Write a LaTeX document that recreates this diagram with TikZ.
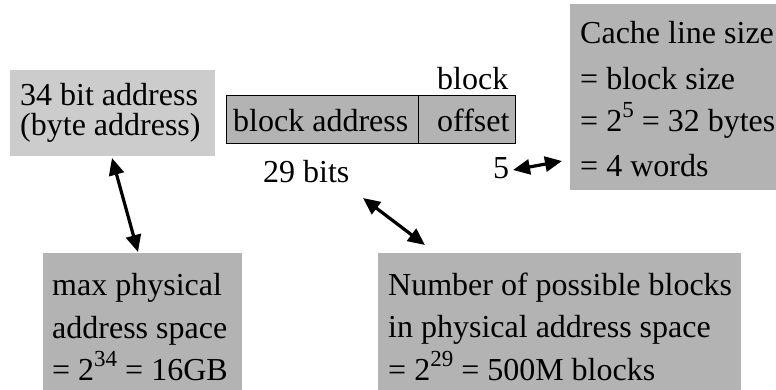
\documentclass[tikz,border=0pt]{standalone}
\usepackage{fontspec}
\setmainfont{Liberation Serif}
\usetikzlibrary{arrows.meta}
\definecolor{boxlight}{HTML}{CCCCCC}
\definecolor{boxdark}{HTML}{B3B3B3}
\newcommand\supnum[1]{\raisebox{14pt}{\fontsize{23}{23}\selectfont #1}}
\begin{document}
\begin{tikzpicture}[x=1pt,y=-1pt,
  txt/.style={inner sep=0pt, anchor=base west, font=\fontsize{32}{38}\selectfont},
  lightbox/.style={fill=boxlight, draw=none, inner sep=0pt, anchor=north west},
  darkbox/.style={fill=boxdark, draw=none, inner sep=0pt, anchor=north west},
  fieldbox/.style={fill=boxdark, draw=black, line width=1pt, inner sep=0pt, anchor=north west},
  dar/.style={{Triangle[length=17pt,width=15pt]}-{Triangle[length=17pt,width=15pt]}, line width=3.2pt},
]
\useasboundingbox (0,0) rectangle (776,389);

% boxes
\node[lightbox, minimum width=205pt, minimum height=86pt] (addr) at (10,70) {};
\node[fieldbox, minimum width=192pt, minimum height=48pt] (baddr) at (226,95) {};
\node[fieldbox, minimum width=97pt, minimum height=48pt] (boff) at (418,95) {};
\node[darkbox, minimum width=220pt, minimum height=186pt] (cache) at (570,4) {};
\node[darkbox, minimum width=199pt, minimum height=150pt] (maxsp) at (43,253) {};
\node[darkbox, minimum width=363pt, minimum height=150pt] (nblk) at (378,253) {};

% texts
\node[txt] (addrA) at (20,105) {34 bit address};
\node[txt] (addrB) at (20,135) {(byte address)};
\node[txt] (baddrT) at (233,131) {block address};
\node[txt] (boffT) at (437,131) {offset};
\node[txt] (blockT) at (437,89) {block};
\node[txt] (bits29) at (263,182) {29 bits};
\node[txt] (bits5) at (493,178) {5};
\node[txt] (cacheA) at (580,43) {Cache line size};
\node[txt] (cacheB) at (580,89) {= block size};
\node[txt] (cacheC) at (580,131) {= 2\supnum{5} = 32 bytes};
\node[txt] (cacheD) at (580,176) {= 4 words};
\node[txt] (maxA) at (52,295) {max physical};
\node[txt] (maxB) at (52,338) {address space};
\node[txt] (maxC) at (52,380) {= 2\supnum{34} = 16GB};
\node[txt] (nA) at (388,295) {Number of possible blocks};
\node[txt] (nB) at (388,337) {in physical address space};
\node[txt] (nC) at (388,380) {= 2\supnum{29} = 500M blocks};

% connector ends
\coordinate (a1s) at (112,158);
\coordinate (a1e) at (138,252);
\coordinate (a2s) at (363,198);
\coordinate (a2e) at (425,245);
\coordinate (a3s) at (513,170);
\coordinate (a3e) at (562,161);

\draw[dar] (a1s) -- (a1e);
\draw[dar] (a2s) -- (a2e);
\draw[dar] (a3s) -- (a3e);
\end{tikzpicture}
\end{document}
